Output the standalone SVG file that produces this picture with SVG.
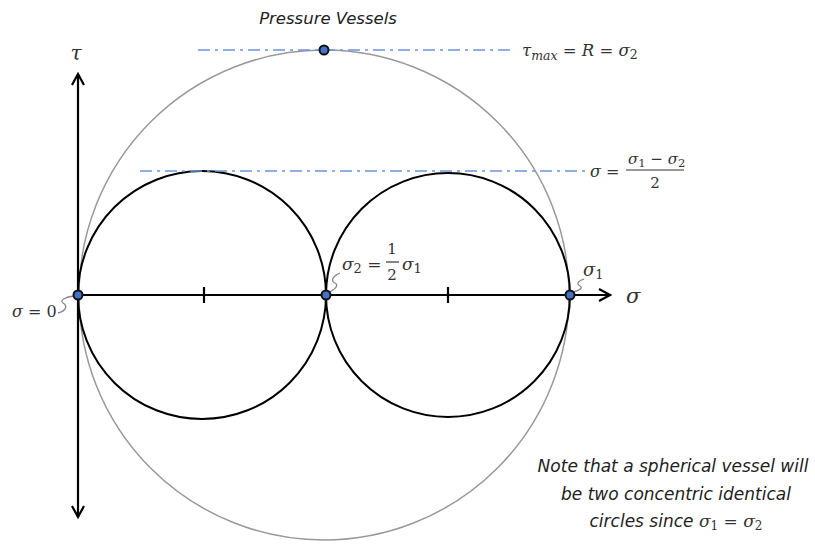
<svg xmlns="http://www.w3.org/2000/svg" width="815" height="544" viewBox="0 0 815 544">
<defs>
<style>
.ax{stroke:#000;stroke-width:2.2;fill:none}
.circ{stroke:#000;stroke-width:2;fill:none}
.big{stroke:#999;stroke-width:1.5;fill:none}
.dd{stroke:#6f93db;stroke-width:1.6;stroke-dasharray:12 5 3 5;fill:none}
.pt{fill:#4472c4;stroke:#111;stroke-width:2}
.sq{stroke:#888;stroke-width:1.3;fill:none}
.m{font-family:"DejaVu Serif","Liberation Serif",serif;font-style:italic;fill:#333}
.n{font-family:"DejaVu Serif","Liberation Serif",serif;font-style:normal;fill:#333}
.t{font-family:"DejaVu Sans","Liberation Sans",sans-serif;font-style:italic;fill:#222}
</style>
<marker id="ah" viewBox="0 0 14 14" refX="12" refY="7" markerWidth="14" markerHeight="14" markerUnits="userSpaceOnUse" orient="auto">
<path d="M1,1 L12,7 L1,13" fill="none" stroke="#000" stroke-width="2.2"/>
</marker>
</defs>
<g id="title"><text class="t" x="328" y="24" font-size="16.5" text-anchor="middle">Pressure Vessels</text></g>
<g id="circles">
<circle class="big" cx="324" cy="295" r="245"/>
<circle class="circ" cx="202" cy="295" r="124"/>
<circle class="circ" cx="448" cy="295" r="122"/>
</g>
<g id="connectors">
<line class="ax" x1="78" y1="295" x2="78" y2="74" marker-end="url(#ah)"/>
<line class="ax" x1="78" y1="295" x2="78" y2="517" marker-end="url(#ah)"/>
<line class="ax" x1="78" y1="295" x2="610" y2="295" marker-end="url(#ah)"/>
<line class="ax" x1="204" y1="287" x2="204" y2="303"/>
<line class="ax" x1="448" y1="287" x2="448" y2="303"/>
<line class="dd" x1="198" y1="50" x2="512" y2="50"/>
<line class="dd" x1="140" y1="171" x2="586" y2="171"/>
<path class="sq" d="M58,313 C66,311 68,306 63,303 C59,300 66,297 74,296"/>
<path class="sq" d="M340,273 C333,276 330,281 335,283 C340,286 333,290 328,293"/>
<path class="sq" d="M584,279 C578,281 576,284 580,286 C584,288 578,291 573,292"/>
</g>
<g id="points">
<circle class="pt" cx="78" cy="295" r="4.5"/>
<circle class="pt" cx="326" cy="295" r="4.5"/>
<circle class="pt" cx="570" cy="295" r="4.5"/>
<circle class="pt" cx="324" cy="50" r="4.5"/>
</g>
<g id="labels">
<text class="m" x="76" y="60" font-size="20" text-anchor="middle">τ</text>
<text class="m" x="626" y="303" font-size="21">σ</text>
<text class="m" x="12" y="317" font-size="16">σ<tspan class="n"> = 0</tspan></text>
<text class="m" x="583" y="276" font-size="18">σ<tspan class="n" font-size="13" dy="3">1</tspan></text>
<text class="m" x="342" y="270" font-size="17">σ<tspan class="n" font-size="13" dy="3">2</tspan><tspan class="n" dy="-3"> =</tspan></text>
<text class="n" x="392" y="254" font-size="15" text-anchor="middle">1</text>
<line x1="386" y1="262" x2="399" y2="262" stroke="#333" stroke-width="1.2"/>
<text class="n" x="392" y="280" font-size="15" text-anchor="middle">2</text>
<text class="m" x="402" y="270" font-size="17">σ<tspan class="n" font-size="13" dy="3">1</tspan></text>
<text class="m" x="522" y="56" font-size="16.5">τ<tspan font-size="12.5" dy="4">max</tspan><tspan class="n" dy="-4"> = </tspan>R<tspan class="n"> = </tspan>σ<tspan class="n" font-size="12.5" dy="3">2</tspan></text>
<text class="m" x="590" y="177" font-size="16">σ<tspan class="n"> =</tspan></text>
<text class="m" x="628" y="164" font-size="15">σ<tspan class="n" font-size="11.5" dy="3">1</tspan><tspan class="n" dy="-3"> − </tspan>σ<tspan class="n" font-size="11.5" dy="3">2</tspan></text>
<line x1="626" y1="170" x2="684" y2="170" stroke="#333" stroke-width="1.2"/>
<text class="n" x="655" y="188" font-size="15" text-anchor="middle">2</text>
</g>
<g id="note">
<text class="t" font-size="17" text-anchor="middle"><tspan x="673" y="472">Note that a spherical vessel will</tspan><tspan x="676" y="500">be two concentric identical</tspan><tspan x="676" y="527">circles since <tspan class="m">σ<tspan class="n" font-size="12" dy="3">1</tspan><tspan class="n" dy="-3"> =  </tspan>σ<tspan class="n" font-size="12" dy="3">2</tspan></tspan></tspan></text>
</g>
</svg>
